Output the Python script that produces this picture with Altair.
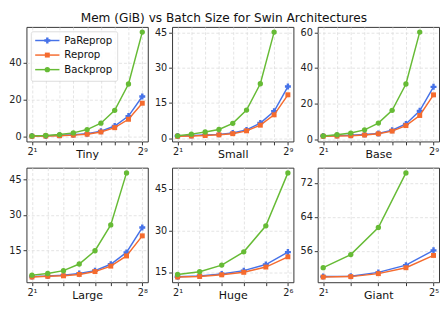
import altair as alt
import pandas as pd
import math

TITLE = "Mem (GiB) vs Batch Size for Swin Architectures"
METHODS = ["PaReprop", "Reprop", "Backprop"]
COLORS = ["#4672E8", "#F56B2E", "#66BB35"]
SHAPES = ["cross", "square", "circle"]
SIZES = [38, 26, 30]

ARCHS = ["Tiny", "Small", "Base", "Large", "Huge", "Giant"]

BATCH_TINY = [2, 4, 8, 16, 32, 64, 128, 256, 512]
PAREPROP_TINY = [0.5, 0.6, 0.9, 1.2, 1.8, 3.1, 5.9, 11.2, 21.7]
REPROP_TINY = [0.4, 0.5, 0.7, 1.0, 1.5, 2.7, 5.0, 9.5, 18.1]
BACKPROP_TINY = [0.6, 0.8, 1.3, 2.2, 4.0, 7.4, 14.3, 28.4, 56.2]
YTICKS_TINY = [0, 20, 40]

BATCH_SMALL = [2, 4, 8, 16, 32, 64, 128, 256, 512]
PAREPROP_SMALL = [1.0, 1.2, 1.4, 1.7, 2.3, 3.6, 6.5, 11.5, 22.0]
REPROP_SMALL = [0.9, 1.0, 1.2, 1.5, 2.0, 3.2, 5.6, 10.0, 18.5]
BACKPROP_SMALL = [1.1, 1.8, 2.7, 3.8, 6.4, 12.0, 23.2, 45.1]
YTICKS_SMALL = [0, 15, 30, 45]

BATCH_BASE = [2, 4, 8, 16, 32, 64, 128, 256, 512]
PAREPROP_BASE = [1.8, 2.0, 2.2, 2.6, 3.2, 5.0, 8.5, 15.9, 29.4]
REPROP_BASE = [1.6, 1.7, 1.9, 2.3, 3.0, 4.5, 7.6, 13.3, 24.9]
BACKPROP_BASE = [1.8, 2.5, 3.4, 5.2, 9.0, 16.2, 31.0, 60.2]
YTICKS_BASE = [0, 20, 40, 60]

BATCH_LARGE = [2, 4, 8, 16, 32, 64, 128, 256]
PAREPROP_LARGE = [4.0, 4.2, 4.6, 5.3, 6.5, 9.2, 14.2, 24.7]
REPROP_LARGE = [3.8, 4.1, 4.3, 4.9, 6.1, 8.4, 12.7, 21.2]
BACKPROP_LARGE = [4.6, 5.3, 6.5, 9.3, 14.9, 25.8, 47.8]
YTICKS_LARGE = [15, 30, 45]

BATCH_HUGE = [2, 4, 8, 16, 32, 64]
PAREPROP_HUGE = [13.3, 13.6, 14.3, 15.5, 17.7, 22.2]
REPROP_HUGE = [13.2, 13.4, 14.0, 14.9, 16.8, 20.5]
BACKPROP_HUGE = [14.1, 15.1, 17.5, 22.3, 31.7, 50.8]
YTICKS_HUGE = [15, 30, 45]

BATCH_GIANT = [2, 4, 8, 16, 32]
PAREPROP_GIANT = [49.9, 50.0, 50.9, 52.6, 56.1]
REPROP_GIANT = [49.8, 49.9, 50.6, 52.0, 54.9]
BACKPROP_GIANT = [52.0, 55.1, 61.5, 74.4]
YTICKS_GIANT = [56, 64, 72]

XLABEL_FIRST = ["2¹", "2¹", "2¹", "2¹", "2¹", "2¹"]
XLABEL_LAST = ["2⁹", "2⁹", "2⁹", "2⁸", "2⁶", "2⁵"]

PANELS = [
    (BATCH_TINY, PAREPROP_TINY, REPROP_TINY, BACKPROP_TINY, YTICKS_TINY),
    (BATCH_SMALL, PAREPROP_SMALL, REPROP_SMALL, BACKPROP_SMALL, YTICKS_SMALL),
    (BATCH_BASE, PAREPROP_BASE, REPROP_BASE, BACKPROP_BASE, YTICKS_BASE),
    (BATCH_LARGE, PAREPROP_LARGE, REPROP_LARGE, BACKPROP_LARGE, YTICKS_LARGE),
    (BATCH_HUGE, PAREPROP_HUGE, REPROP_HUGE, BACKPROP_HUGE, YTICKS_HUGE),
    (BATCH_GIANT, PAREPROP_GIANT, REPROP_GIANT, BACKPROP_GIANT, YTICKS_GIANT),
]

W, H = 125, 118
FONT = "DejaVu Sans"


def make_panel(i):
    xs, pa, re, bp, yt = PANELS[i]
    series = [pa, re, bp]
    rows = []
    for m, vals in zip(METHODS, series):
        for x, v in zip(xs, vals):
            rows.append({"batch": x, "mem": v, "method": m})
    df = pd.DataFrame(rows)

    lx0, lx1 = math.log2(xs[0]), math.log2(xs[-1])
    mx = 0.05 * (lx1 - lx0)
    xdom = [2 ** (lx0 - mx), 2 ** (lx1 + mx)]
    allv = pa + re + bp
    ymin, ymax = min(allv), max(allv)
    my = 0.05 * (ymax - ymin)
    ydom = [ymin - my, ymax + my]

    label_expr = (
        f"datum.value == {xs[0]} ? '{XLABEL_FIRST[i]}' : "
        f"datum.value == {xs[-1]} ? '{XLABEL_LAST[i]}' : ''"
    )
    xenc = alt.X(
        "batch:Q",
        scale=alt.Scale(type="log", base=2, domain=xdom, nice=False),
        axis=alt.Axis(values=xs, labelExpr=label_expr, title=ARCHS[i],
                      labelFlush=False, titleFontWeight="normal",
                      titlePadding=-8),
    )
    yenc = alt.Y(
        "mem:Q",
        scale=alt.Scale(domain=ydom, nice=False, zero=False),
        axis=alt.Axis(values=yt, title=None),
    )

    layers = []
    for m, c, s, sz in zip(METHODS, COLORS, SHAPES, SIZES):
        base = alt.Chart(df).transform_filter(alt.datum.method == m)
        layers.append(base.mark_line(color=c, strokeWidth=1.5).encode(x=xenc, y=yenc))
        layers.append(base.mark_point(color=c, shape=s, size=sz, filled=True, opacity=1)
                      .encode(x=xenc, y=yenc))

    if i == 0:
        ldf = pd.DataFrame({"label": METHODS})
        layers.append(
            alt.Chart(ldf).transform_filter(alt.datum.label == METHODS[0])
            .mark_rect(fill="white", stroke="#cccccc", strokeWidth=0.8,
                       cornerRadius=2, opacity=0.85)
            .encode(x=alt.value(5), x2=alt.value(94), y=alt.value(5), y2=alt.value(56))
        )
        for k, (m, c, s, sz) in enumerate(zip(METHODS, COLORS, SHAPES, SIZES)):
            yy = 14 + 15 * k
            lb = alt.Chart(ldf).transform_filter(alt.datum.label == m)
            layers.append(lb.mark_rule(color=c, strokeWidth=1.5).encode(
                x=alt.value(9), x2=alt.value(34), y=alt.value(yy)))
            layers.append(lb.mark_point(color=c, shape=s, size=sz, filled=True, opacity=1).encode(
                x=alt.value(21.5), y=alt.value(yy)))
            layers.append(lb.mark_text(align="left", baseline="middle", font=FONT,
                                       fontSize=10.5, color="#111").encode(
                x=alt.value(39), y=alt.value(yy + 0.5), text="label:N"))

    return alt.layer(*layers).properties(width=W, height=H)


row1 = alt.hconcat(*[make_panel(i) for i in range(3)], spacing=5)
row2 = alt.hconcat(*[make_panel(i) for i in range(3, 6)], spacing=5)

chart = (
    alt.vconcat(row1, row2, spacing=6)
    .properties(
        title=alt.TitleParams(TITLE, anchor="middle", font=FONT, fontSize=12.5,
                              fontWeight="normal", color="#111", offset=2),
        padding=0,
    )
    .configure_axis(
        labelFont=FONT, labelFontSize=10, labelColor="#222",
        tickColor="#333", tickSize=3.5, labelPadding=2, domain=False,
        gridColor="#dcdcdc", gridDash=[3, 2], gridWidth=0.8,
        titleFont=FONT, titleFontSize=11.3, titleFontWeight="normal",
        titleColor="#111", titlePadding=-8,
    )
    .configure_view(stroke="#333", strokeWidth=1)
)

chart.save("out.html", embed_options={"renderer": "svg", "actions": False})
